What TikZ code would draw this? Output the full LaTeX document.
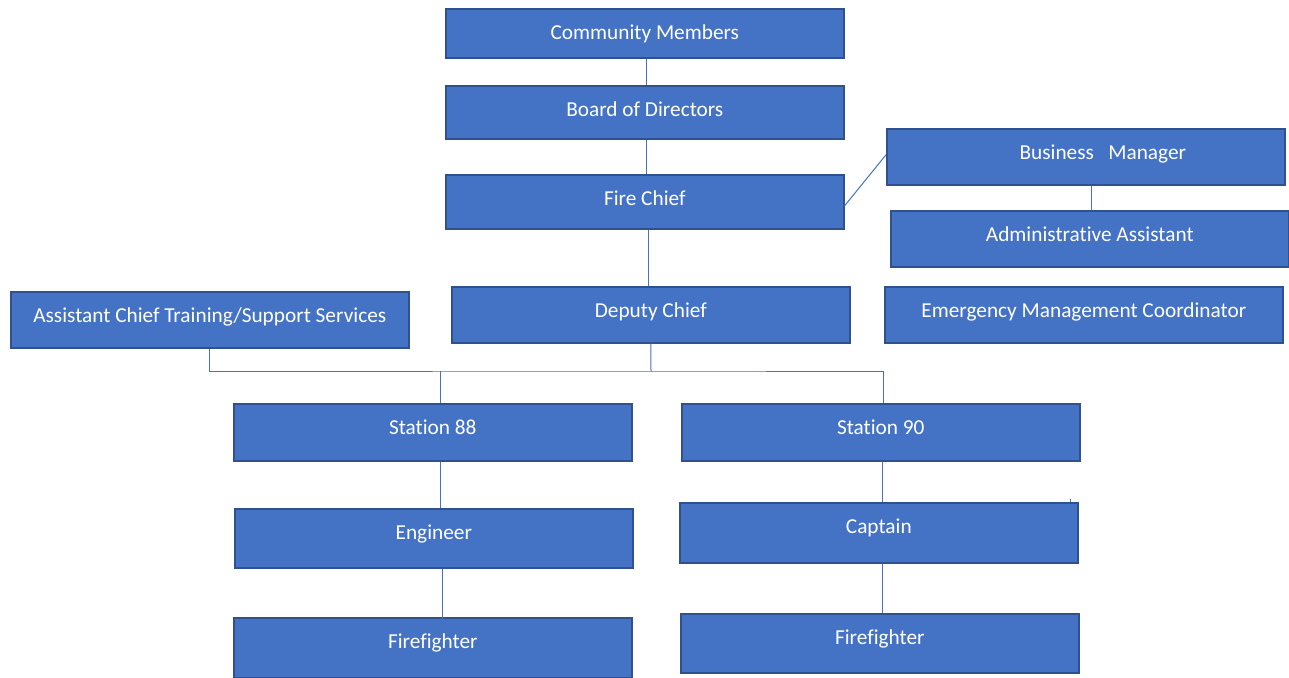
\documentclass[tikz,border=0pt]{standalone}
\usepackage{fontspec}
\setmainfont{Carlito}[RawFeature={-liga;-clig;-calt;-dlig}]
\usepackage{tikz}
\usetikzlibrary{positioning}
\definecolor{boxfill}{HTML}{4472C4}
\definecolor{boxedge}{HTML}{2F528F}
\definecolor{linkblue}{HTML}{4472C4}

\begin{document}
\begin{tikzpicture}[x=1pt,y=-1pt,
  orgbox/.style = {draw=boxedge, fill=boxfill, line width=1.6pt, text=white, anchor=north west,
    minimum width=398pt, inner ysep=0pt, text height=31pt, text depth=25pt,
    font=\fontsize{21.3}{25}\selectfont},
  link/.style = {draw=linkblue, line width=1pt}]
\useasboundingbox (0,0) rectangle (1289,677);
\coordinate (tick) at (1070,499);
\node[orgbox, text depth=18pt] (cm) at (445,8) {Community Members};
\node[orgbox, text depth=22pt] (bod) at (445,85) {Board of Directors};
\node[orgbox, text depth=23pt] (fc) at (445,174) {Fire Chief};
\node[orgbox] (bm) at (886,128) {\hspace*{34pt}Business\ \ \ Manager};
\node[orgbox] (aa) at (890,210) {Administrative Assistant};
\node[orgbox] (emc) at (884,286) {Emergency Management Coordinator};
\node[orgbox] (act) at (10,291) {Assistant Chief Training/Support Services};
\node[orgbox] (dc) at (451,286) {Deputy Chief};
\coordinate (bus) at (651,371);
\node[orgbox, text depth=26pt] (s88) at (233,403) {Station 88};
\node[orgbox, text depth=26pt] (s90) at (681,403) {Station 90};
\node[orgbox, text depth=28pt] (eng) at (234,508) {Engineer};
\draw[link] (tick) -- ++(0,4);
\node[orgbox, text depth=29pt] (cap) at (679,502) {Captain};
\node[orgbox, text depth=29pt] (ffl) at (233,617) {Firefighter};
\node[orgbox, text depth=28pt] (ffr) at (680,613) {Firefighter};
\draw[link] ([xshift=2pt]cm.south) -- ([xshift=2pt]bod.north);
\draw[link] ([xshift=2pt]bod.south) -- ([xshift=2pt]fc.north);
\draw[link] ([yshift=-4pt]fc.east) -- ([yshift=2pt]bm.west);
\draw[link] ([xshift=6pt]bm.south) -- ([xshift=6pt]bm.south |- aa.north);
\draw[link] ([xshift=4pt]fc.south) -- ([xshift=4pt]fc.south |- dc.north);
\draw[link] (act.south) |- (bus) -| ([xshift=3pt]s90.north);
\draw[link] (dc.south) -- (bus);
\draw[link] ([xshift=8pt]s88.north |- bus) -- ([xshift=8pt]s88.north);
\draw[link] ([xshift=8pt]s88.south) -- ([xshift=8pt]s88.south |- eng.north);
\draw[link] ([xshift=9pt]eng.south) -- ([xshift=9pt,yshift=-4pt]eng.south |- ffl.north);
\draw[link] ([xshift=2pt]s90.south) -- ([xshift=2pt]s90.south |- cap.north);
\draw[link] ([xshift=4pt]cap.south) -- ([xshift=4pt]cap.south |- ffr.north);
\end{tikzpicture}
\end{document}
